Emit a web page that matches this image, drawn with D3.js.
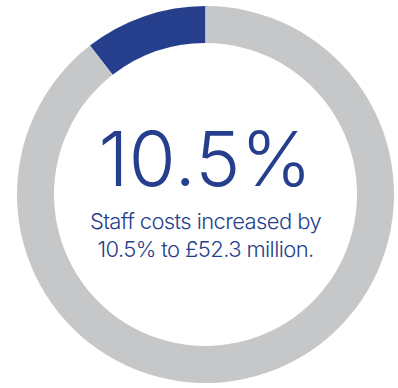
<!DOCTYPE html>
<html>
<head>
<meta charset="utf-8">
<script src="https://cdn.jsdelivr.net/npm/d3@7"></script>
<style>
  html, body { margin: 0; padding: 0; background: #fff; }
  svg { display: block; }
</style>
</head>
<body>
<svg id="chart" width="398" height="388"></svg>
<script>
// Share of the increase shown on the ring, and the remainder of the circle
const segments = ["Increase", "Remainder"];
const values = [10.5, 89.5];
const headline = ["10.5%"];
const caption = ["Staff costs increased by", "10.5% to £52.3 million."];

const colours = d3.scaleOrdinal().domain(segments).range(["#253f8c", "#c6c7c9"]);

const svg = d3.select("#chart");
const cx = 205.5, cy = 194.5;
const outerR = 188.5, innerR = 151.5;

const g = svg.append("g").attr("transform", `translate(${cx},${cy})`);

// The highlighted slice runs anticlockwise from twelve o'clock
const pie = d3.pie().sort(null).startAngle(0).endAngle(-2 * Math.PI);
const arc = d3.arc().innerRadius(innerR).outerRadius(outerR);

g.selectAll("path")
  .data(pie(values))
  .join("path")
  .attr("d", arc)
  .attr("fill", (d, i) => colours(segments[i]));

g.append("text")
  .attr("x", 0)
  .attr("y", -8.5)
  .attr("text-anchor", "middle")
  .attr("fill", "#253f8c")
  .style("font-family", "Inter, Roboto, 'Liberation Sans', sans-serif")
  .style("font-weight", 300)
  .style("font-size", "76px")
  .style("letter-spacing", "0.5px")
  .text(headline[0]);

g.selectAll("text.caption")
  .data(caption)
  .join("text")
  .attr("class", "caption")
  .attr("x", 0)
  .attr("y", (d, i) => 34.8 + i * 27.5)
  .attr("text-anchor", "middle")
  .attr("fill", "#253f8c")
  .style("font-family", "Inter, Roboto, 'Liberation Sans', sans-serif")
  .style("font-weight", 300)
  .style("font-size", "22px")
  .style("letter-spacing", "-0.6px")
  .text(d => d);
</script>
</body>
</html>
